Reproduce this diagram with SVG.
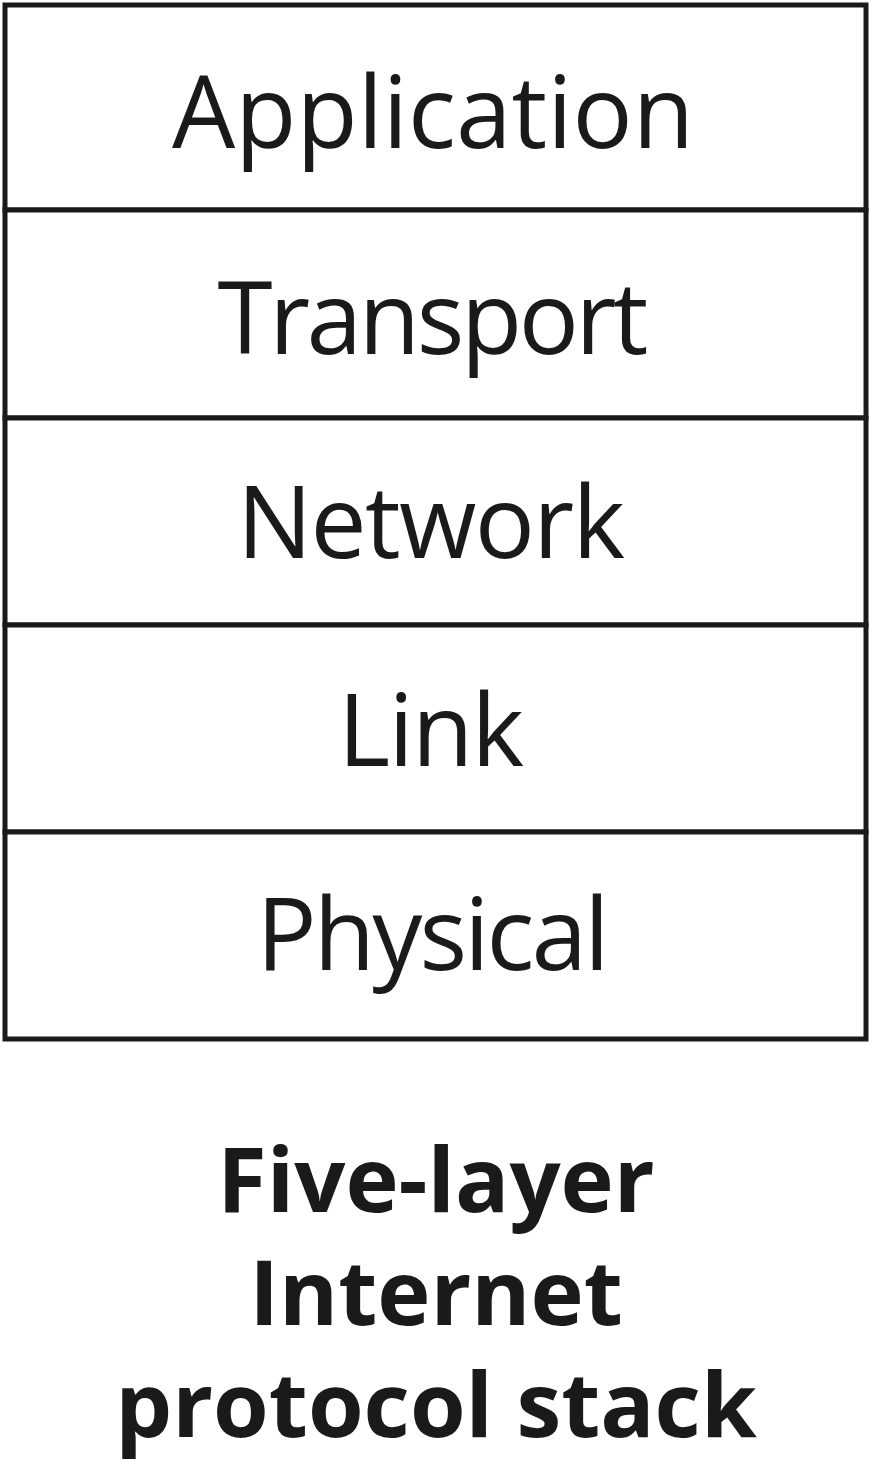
<svg xmlns="http://www.w3.org/2000/svg" width="872" height="1464" viewBox="0 0 872 1464">
  <style>
    .layer { fill: #ffffff; stroke: #1a1a1a; stroke-width: 5; }
    .label { font-family: "Open Sans", "Noto Sans", sans-serif; font-size: 100px; fill: #1a1a1a; text-anchor: middle; }
    .caption { font-family: "Open Sans", "Noto Sans", sans-serif; font-size: 90px; font-weight: bold; fill: #1a1a1a; text-anchor: middle; }
  </style>
  <rect x="0" y="0" width="872" height="1464" fill="#ffffff"/>
  <g id="application">
    <rect class="layer" x="5" y="5" width="861" height="205"/>
    <text class="label" x="433" y="148">Application</text>
  </g>
  <g id="transport">
    <rect class="layer" x="5" y="210" width="861" height="208"/>
    <text class="label" x="433" y="354" textLength="431">Transport</text>
  </g>
  <g id="network">
    <rect class="layer" x="5" y="418" width="861" height="207"/>
    <text class="label" x="431" y="558" textLength="388">Network</text>
  </g>
  <g id="link">
    <rect class="layer" x="5" y="625" width="861" height="207"/>
    <text class="label" x="431" y="766" textLength="186">Link</text>
  </g>
  <g id="physical">
    <rect class="layer" x="5" y="832" width="861" height="207"/>
    <text class="label" x="433" y="970" textLength="353">Physical</text>
  </g>
  <g id="connectors"></g>
  <g id="caption">
    <text class="caption" x="436" y="1212">Five-layer</text>
    <text class="caption" x="436" y="1325">Internet</text>
    <text class="caption" x="436" y="1437">protocol stack</text>
  </g>
</svg>
